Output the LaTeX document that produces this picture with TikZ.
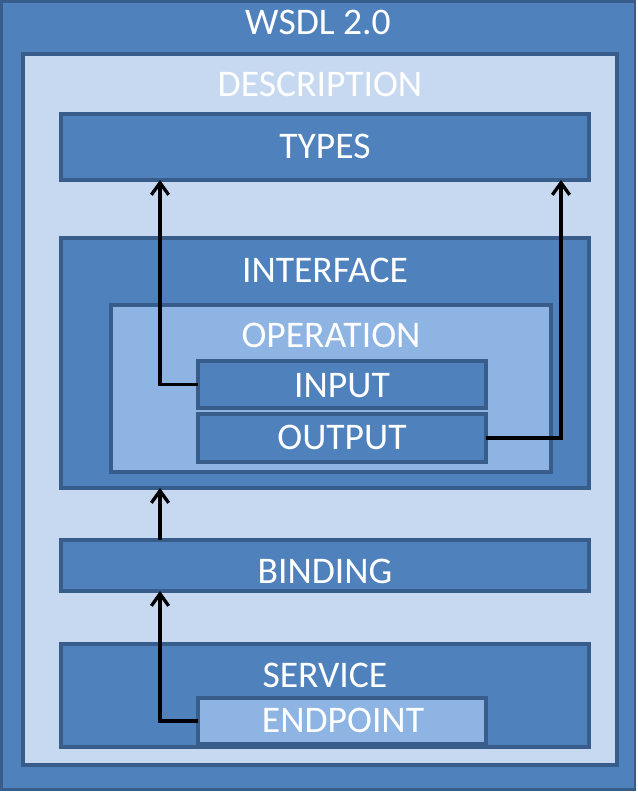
\documentclass[tikz,border=0pt]{standalone}
\usepackage{fontspec}
\setmainfont{Carlito}
\usetikzlibrary{fit,arrows.meta}

\definecolor{wsdlblue}{RGB}{79,129,189}
\definecolor{wsdledge}{RGB}{56,93,138}
\definecolor{wsdlpale}{RGB}{198,217,240}
\definecolor{wsdlmid}{RGB}{142,180,227}

\tikzset{every picture/.style={line width=0.75pt}}
\tikzset{
  box/.style={draw=wsdledge, line width=2.6pt, inner sep=0pt, outer sep=0pt},
  title/.style={anchor=base, text=white, inner sep=0pt, font=\fontsize{28.2}{33}\selectfont},
  arr/.style={draw=black, line width=2.5pt, -{Straight Barb[length=9pt,width=13pt]}}
}

\begin{document}
\begin{tikzpicture}[x=0.75pt,y=0.75pt,yscale=-1,xscale=1]
\useasboundingbox (0,0) rectangle (637,795);

% Boxes
\node[box, fill=wsdlblue, line width=2.2pt, fit={(1.5,1.5) (635,789.5)}] (wsdl) {};
\node[box, fill=wsdlpale, fit={(23,54) (617,765)}] (description) {};
\node[box, fill=wsdlblue, fit={(61,114) (589,180)}] (types) {};
\node[box, fill=wsdlblue, fit={(61,238) (589,488)}] (interface) {};
\node[box, fill=wsdlmid, fit={(111,305) (551,472)}] (operation) {};
\node[box, fill=wsdlblue, fit={(198,361) (486,408)}] (input) {};
\node[box, fill=wsdlblue, fit={(198,414) (486,462)}] (output) {};
\node[box, fill=wsdlblue, fit={(61,540) (589,591)}] (binding) {};
\node[box, fill=wsdlblue, fit={(61,644) (589,747)}] (service) {};
\node[box, fill=wsdlmid, fit={(198,698) (486,744)}] (endpoint) {};

% Text Node
\node[title] (wsdltext) at (318,35) {WSDL 2.0};
\node[title] (descriptiontext) at (320,97) {DESCRIPTION};
\node[title] (typestext) at (325,158) {TYPES};
\node[title] (interfacetext) at (325,282) {INTERFACE};
\node[title] (operationtext) at (331,347) {OPERATION};
\node[title] (inputtext) at (342,397) {INPUT};
\node[title] (outputtext) at (342,449) {OUTPUT};
\node[title] (bindingtext) at (325,583) {BINDING};
\node[title] (servicetext) at (325,687) {SERVICE};
\node[title] (endpointtext) at (343,732) {ENDPOINT};

% Connectors
\coordinate (lane) at (160,0);
\coordinate (lane2) at (561,0);
\draw[arr] (input.west) -| (types.south -| lane);
\draw[arr] (output.east) -| (types.south -| lane2);
\draw[arr] (binding.north -| lane) -- (interface.south -| lane);
\draw[arr] (endpoint.west) -| (binding.south -| lane);

\end{tikzpicture}
\end{document}
